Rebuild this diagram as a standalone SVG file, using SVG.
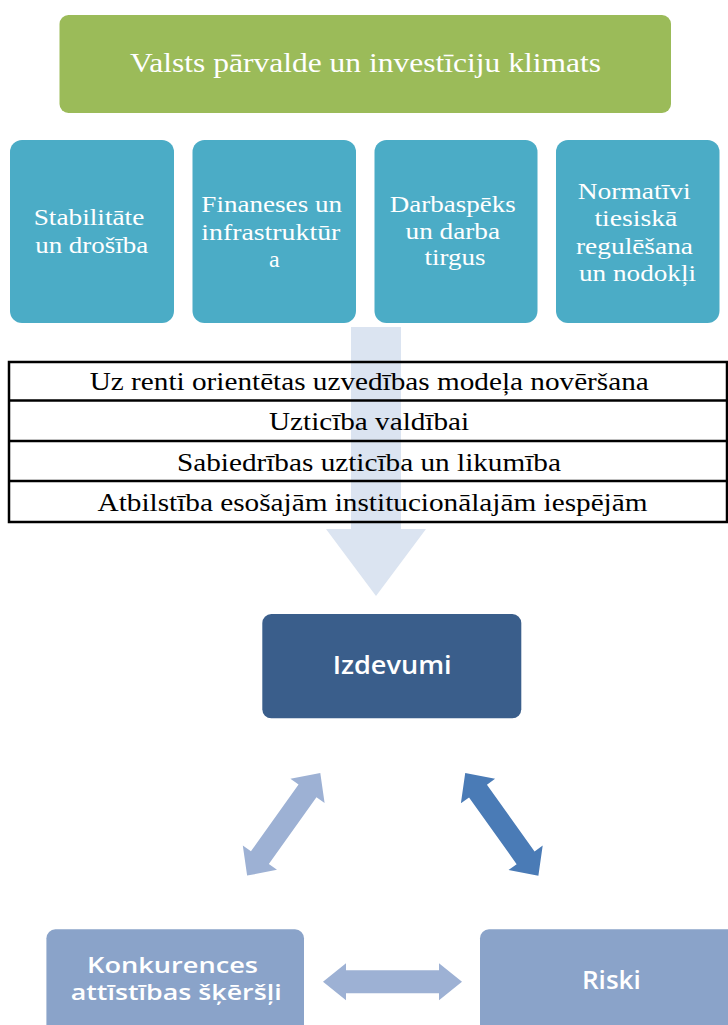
<svg xmlns="http://www.w3.org/2000/svg" width="728" height="1025" viewBox="0 0 728 1025">
<style>
.serif{font-family:"Liberation Serif","Times New Roman",serif;}
.sans{font-family:"Open Sans","Noto Sans","Liberation Sans",sans-serif;font-weight:600;}
.w{fill:#ffffff;}
.k{fill:#000000;}
.cyan{fill:#4BACC6;}
.light{fill:#9DB1D4;}
.lbox{fill:#8AA3C9;}
.tbl{fill:none;stroke:#000;stroke-width:2.5;}
</style>
<rect width="728" height="1025" fill="#ffffff"/>
<g id="connectors">
  <polygon id="main-arrow" points="351,327 401,327 401,529 426,529 376,596 326,529 351,529" fill="#DBE4F1"/>
  <polygon id="arrow-izdevumi-konkurences" class="light" transform="translate(283.7,824.3) rotate(-54.5)" points="-63,0 -41,-21 -41,-11 41,-11 41,-21 63,0 41,21 41,11 -41,11 -41,21"/>
  <polygon id="arrow-izdevumi-riski" fill="#4A7BB6" transform="translate(501.8,824.4) rotate(54.5)" points="-63,0 -41,-21 -41,-11 41,-11 41,-21 63,0 41,21 41,11 -41,11 -41,21"/>
  <polygon id="arrow-konkurences-riski" class="light" transform="translate(392.5,981.7)" points="-69.5,0 -46.5,-18.5 -46.5,-11.5 46.5,-11.5 46.5,-18.5 69.5,0 46.5,18.5 46.5,11.5 -46.5,11.5 -46.5,18.5"/>
</g>
<g id="title">
  <rect x="59.5" y="15" width="611.5" height="98" rx="9" fill="#9BBB59"/>
  <text class="serif w" x="365.5" y="72" font-size="28" text-anchor="middle" textLength="471" lengthAdjust="spacingAndGlyphs">Valsts pārvalde un investīciju klimats</text>
</g>
<g id="box-stabilitate">
  <rect class="cyan" x="10" y="140" width="164" height="183" rx="12"/>
  <text class="serif w" font-size="24" text-anchor="middle">
    <tspan x="92" y="225" textLength="110.6" lengthAdjust="spacingAndGlyphs">Stabilitāte</tspan>
    <tspan x="91.7" y="253" textLength="113" lengthAdjust="spacingAndGlyphs">un drošība</tspan>
  </text>
</g>
<g id="box-finanses">
  <rect class="cyan" x="192.5" y="140" width="163.5" height="183" rx="12"/>
  <text class="serif w" font-size="24" text-anchor="middle">
    <tspan x="274.7" y="211.5" textLength="140.7" lengthAdjust="spacingAndGlyphs">Finaneses un</tspan>
    <tspan x="273.8" y="239.5" textLength="139" lengthAdjust="spacingAndGlyphs">infrastruktūr</tspan>
    <tspan x="274.3" y="266.5">a</tspan>
  </text>
</g>
<g id="box-darbaspeks">
  <rect class="cyan" x="374.5" y="140" width="163" height="183" rx="12"/>
  <text class="serif w" font-size="24" text-anchor="middle">
    <tspan x="455.8" y="212" textLength="126" lengthAdjust="spacingAndGlyphs">Darbaspēks</tspan>
    <tspan x="455.8" y="238.5" textLength="94.5" lengthAdjust="spacingAndGlyphs">un darba</tspan>
    <tspan x="455" y="265" textLength="61" lengthAdjust="spacingAndGlyphs">tirgus</tspan>
  </text>
</g>
<g id="box-normativi">
  <rect class="cyan" x="556" y="140" width="163.5" height="183" rx="12"/>
  <text class="serif w" font-size="24" text-anchor="middle">
    <tspan x="637.2" y="198.5" textLength="113" lengthAdjust="spacingAndGlyphs">Normatīvi</tspan>
    <tspan x="638.9" y="225.5" textLength="83" lengthAdjust="spacingAndGlyphs">tiesiskā</tspan>
    <tspan x="637.5" y="253.5" textLength="117" lengthAdjust="spacingAndGlyphs">regulēšana</tspan>
    <tspan x="637.5" y="280.5" textLength="117" lengthAdjust="spacingAndGlyphs">un nodokļi</tspan>
  </text>
</g>
<g id="table">
  <rect class="tbl" x="9" y="362" width="718" height="160"/>
  <line class="tbl" x1="9" y1="400.5" x2="727" y2="400.5"/>
  <line class="tbl" x1="9" y1="441" x2="727" y2="441"/>
  <line class="tbl" x1="9" y1="481" x2="727" y2="481"/>
  <text class="serif k" font-size="26" text-anchor="middle">
    <tspan x="372.5" y="390" textLength="559" lengthAdjust="spacingAndGlyphs">Uz renti orientētas uzvedības modeļa novēršana</tspan>
    <tspan x="372.3" y="430" textLength="200" lengthAdjust="spacingAndGlyphs">Uzticība valdībai</tspan>
    <tspan x="372.2" y="470.5" textLength="384" lengthAdjust="spacingAndGlyphs">Sabiedrības uzticība un likumība</tspan>
    <tspan x="372.5" y="510.5" textLength="550" lengthAdjust="spacingAndGlyphs">Atbilstība esošajām institucionālajām iespējām</tspan>
  </text>
</g>
<g id="izdevumi">
  <rect x="262.3" y="614" width="259" height="104.3" rx="9" fill="#3A5E8B"/>
  <text class="sans w" x="392.2" y="674" font-size="25" text-anchor="middle" textLength="119" lengthAdjust="spacingAndGlyphs">Izdevumi</text>
</g>
<g id="konkurences">
  <rect class="lbox" x="46.4" y="929.3" width="257.6" height="110" rx="9"/>
  <text class="sans w" font-size="21" text-anchor="middle">
    <tspan x="175.3" y="973" textLength="171" lengthAdjust="spacingAndGlyphs">Konkurences</tspan>
    <tspan x="176.2" y="1000" textLength="211" lengthAdjust="spacingAndGlyphs">attīstības šķēršļi</tspan>
  </text>
</g>
<g id="riski">
  <rect class="lbox" x="480" y="929.3" width="260" height="110" rx="9"/>
  <text class="sans w" x="611.4" y="989" font-size="26" text-anchor="middle" textLength="59" lengthAdjust="spacingAndGlyphs">Riski</text>
</g>
</svg>
